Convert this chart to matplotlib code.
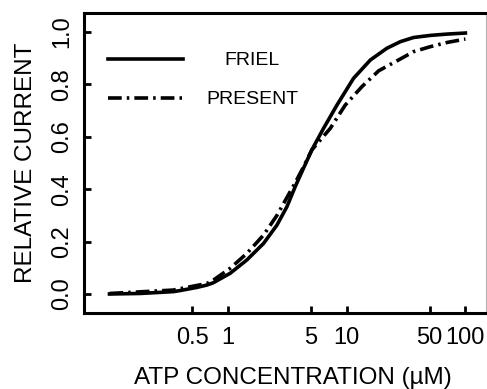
import numpy as np
import matplotlib
matplotlib.use("Agg")
import matplotlib.pyplot as plt
from matplotlib.lines import Line2D

plt.rcParams['font.family'] = ['Liberation Sans', 'DejaVu Sans']

# ATP concentration (uM) and relative current for the two fits
friel_atp = [0.1, 0.181, 0.345, 0.393, 0.544, 0.661, 0.751, 1.04, 1.44, 1.99, 2.58,
             3.13, 3.68, 4.32, 5.08, 6.37, 8.27, 11.4, 15.8, 21.8, 28.3, 36.6,
             50.7, 70.1, 100]
friel_cur = [0.0, 0.002, 0.009, 0.013, 0.025, 0.034, 0.043, 0.079, 0.130, 0.193, 0.263,
             0.333, 0.41, 0.48, 0.55, 0.632, 0.721, 0.823, 0.893, 0.938, 0.963, 0.979,
             0.987, 0.992, 0.996]

present_atp = [0.1, 0.345, 0.661, 0.751, 1.04, 1.44, 1.99, 2.58, 3.68, 4.32, 5.08,
               7.26, 9.71, 13.4, 18.6, 28.3, 36.6, 50.7, 70.1, 100]
present_cur = [0.002, 0.015, 0.04, 0.053, 0.098, 0.155, 0.225, 0.30, 0.425, 0.485, 0.55,
               0.632, 0.721, 0.791, 0.852, 0.897, 0.925, 0.944, 0.960, 0.973]

xticks = [0.5, 1, 5, 10, 50, 100]
xticklabels = ['0.5', '1', '5', '10', '50', '100']
yticks = [0.0, 0.2, 0.4, 0.6, 0.8, 1.0]

dashdot = (3.8, 1.4, 0.7, 1.4)

fig = plt.figure(figsize=(4.87, 3.89), dpi=100)
ax = fig.add_axes([0.1725, 0.1954, 0.826, 0.7712])

ax.plot(friel_atp, friel_cur, color='black', lw=2.6)
ax.plot(present_atp, present_cur, color='black', lw=2.6, dashes=dashdot)

ax.set_xscale('log')
ax.set_xlim(0.061, 150)
ax.set_ylim(-0.0725, 1.0725)
ax.set_xticks(xticks)
ax.set_xticklabels(xticklabels)
ax.xaxis.set_minor_locator(matplotlib.ticker.NullLocator())
ax.set_yticks(yticks)
ax.set_yticklabels([f'{v:.1f}' for v in yticks], rotation=90, va='center')

ax.tick_params(direction='in', length=5, width=2, labelsize=17)
ax.tick_params(axis='x', pad=10)
ax.tick_params(axis='y', pad=8)

for side in ['left', 'bottom', 'top']:
    ax.spines[side].set_linewidth(2.2)
ax.spines['right'].set_linewidth(0.8)
ax.spines['right'].set_color('#b0b0b0')

ax.set_xlabel('ATP CONCENTRATION (\u00b5M)', fontsize=17.5, labelpad=13)
ax.xaxis.label.set_x(0.52)
ax.set_ylabel('RELATIVE CURRENT', fontsize=17.5, labelpad=10)

# legend keys drawn in axes fraction
ax.add_line(Line2D([0.06, 0.246], [0.847, 0.847], transform=ax.transAxes,
                   color='black', lw=2.6))
ax.add_line(Line2D([0.06, 0.246], [0.717, 0.717], transform=ax.transAxes,
                   color='black', lw=2.6, dashes=dashdot))
ax.text(0.418, 0.84, 'FRIEL', transform=ax.transAxes, ha='center', va='center', fontsize=14)
ax.text(0.419, 0.71, 'PRESENT', transform=ax.transAxes, ha='center', va='center', fontsize=14)

fig.savefig('out.png', dpi=100)
